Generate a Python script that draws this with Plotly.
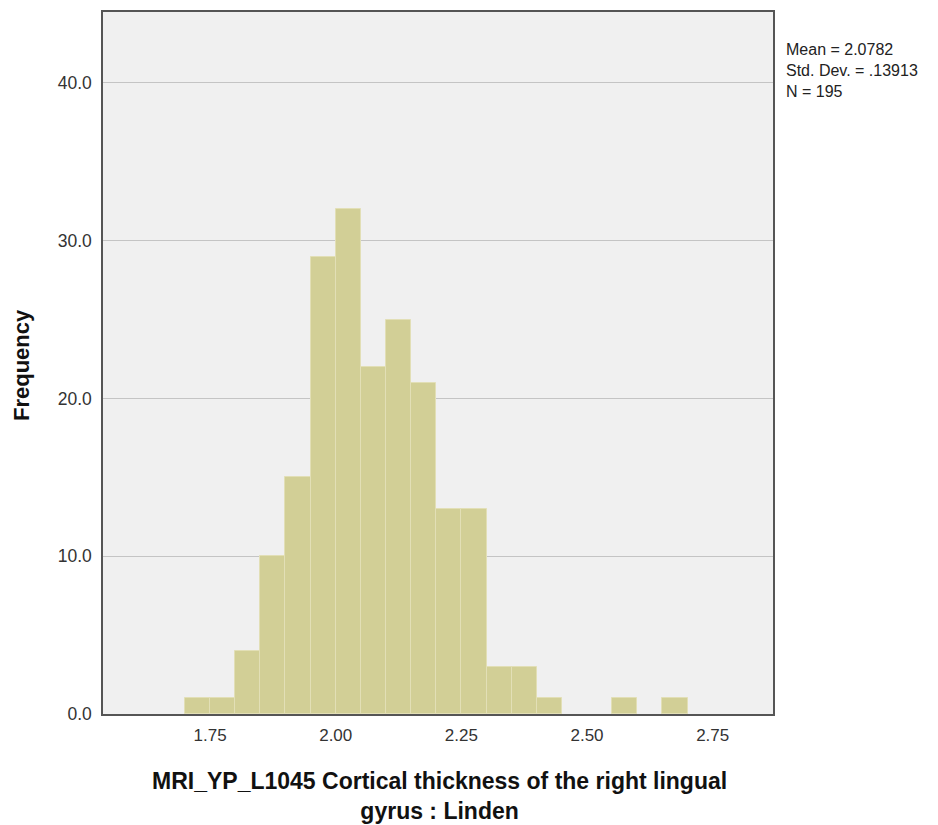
import plotly.graph_objects as go

bin_starts = [1.70, 1.75, 1.80, 1.85, 1.90, 1.95, 2.00, 2.05, 2.10, 2.15,
              2.20, 2.25, 2.30, 2.35, 2.40, 2.45, 2.50, 2.55, 2.60, 2.65]
counts = [1, 1, 4, 10, 15, 29, 32, 22, 25, 21,
          13, 13, 3, 3, 1, 0, 0, 1, 0, 1]
bin_width = 0.05
x_ticks = [1.75, 2.00, 2.25, 2.50, 2.75]
y_ticks = [0, 10, 20, 30, 40]
stats_lines = ["Mean = 2.0782", "Std. Dev. = .13913", "N = 195"]
x_title_lines = ["MRI_YP_L1045 Cortical thickness of the right lingual", "gyrus : Linden"]
y_title = "Frequency"

centers = [b + bin_width / 2 for b in bin_starts]
line_widths = [1 if c > 0 else 0 for c in counts]

fig = go.Figure()
fig.add_trace(go.Bar(
    x=centers, y=counts, width=[bin_width] * len(counts),
    marker=dict(color="#d2cf96", line=dict(color="#e2dfb6", width=line_widths)),
    showlegend=False,
))

font_family = "Liberation Sans, Arial, sans-serif"
# plot area in page pixels: x 103..773, y 10..714 (page has 8px body margin)
L, R, T, B = 103, 773, 10, 714


def px(x):
    return (x - L) / (R - L)


def py(y):
    return (B - y) / (B - T)


fig.update_layout(
    width=930, height=817,
    margin=dict(l=95, r=165, t=2, b=111),
    paper_bgcolor="white", plot_bgcolor="#f0f0f0",
    font=dict(family=font_family, size=17, color="#333"),
    bargap=0,
    xaxis=dict(
        range=[1.537, 2.87], tickvals=x_ticks,
        ticktext=[f"{v:.2f}" for v in x_ticks],
        showgrid=False, zeroline=False,
        showline=True, linecolor="#555", linewidth=1.5, mirror=True,
        ticks="outside", ticklen=5, tickcolor="rgba(0,0,0,0)",
        tickfont=dict(size=17, color="#333"),
    ),
    yaxis=dict(
        range=[0, 44.5], tickvals=y_ticks,
        ticktext=[f"{v:.1f}" for v in y_ticks],
        showgrid=True, gridcolor="#c4c4c4", gridwidth=1.2, zeroline=False,
        showline=True, linecolor="#555", linewidth=1.5, mirror=True,
        ticks="outside", ticklen=6, tickcolor="rgba(0,0,0,0)",
        tickfont=dict(size=17.5, color="#333"),
    ),
)

# y-axis title
fig.add_annotation(
    xref="paper", yref="paper", x=px(22), y=py(364),
    xanchor="center", yanchor="middle", showarrow=False, textangle=-90,
    text=f"<b>{y_title}</b>",
    font=dict(size=22, color="#111", family=font_family),
)

# x-axis title (two lines, one text block)
fig.add_annotation(
    xref="paper", yref="paper", x=px(439), y=py(796),
    xanchor="center", yanchor="middle", showarrow=False, align="center",
    text="<br>".join(f"<b>{line}</b>" for line in x_title_lines),
    font=dict(size=23, color="#111", family=font_family),
)

# statistics box (one text block)
fig.add_annotation(
    xref="paper", yref="paper", x=px(784), y=py(69),
    xanchor="left", yanchor="middle", showarrow=False, align="left",
    text="<br>".join(stats_lines),
    font=dict(size=16, color="#222", family=font_family),
)

fig.write_html("out.html")
